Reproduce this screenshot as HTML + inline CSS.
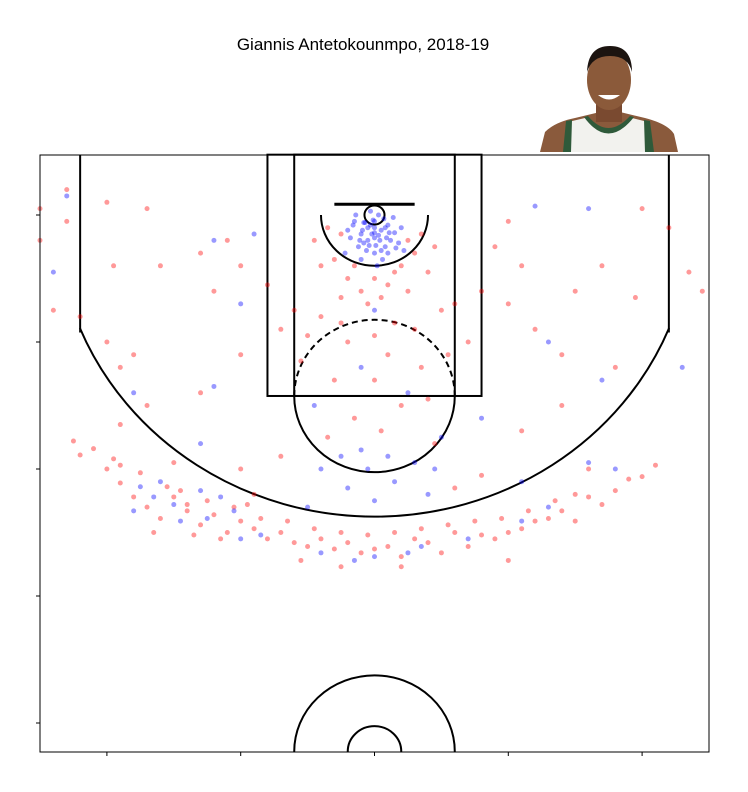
<!DOCTYPE html>
<html><head><meta charset="utf-8"><style>
html,body{margin:0;padding:0;background:#fff;}
svg{display:block;font-family:"Liberation Sans",sans-serif;}
</style></head><body>
<svg id="chart" width="748" height="792" viewBox="0 0 748 792">
<text x="363" y="50" text-anchor="middle" font-size="17">Giannis Antetokounmpo, 2018-19</text>
<g>
  <path d="M540,152 L545,132 Q555,122 575,118 L600,112 L620,112 L645,118 Q668,124 674,134 L678,152 Z" fill="#8a5a3c"/>
  <path d="M566,152 L568,122 L585,118 Q608,148 632,118 L648,122 L650,152 Z" fill="#f2f2ee"/>
  <path d="M563,152 L566,121 L572,120 L571,152 Z M645,152 L644,120 L650,121 L654,152 Z" fill="#2f5a3a"/>
  <path d="M584,117 Q608,150 634,117 L630,116 Q608,140 588,116 Z" fill="#2f5a3a"/>
  <rect x="596" y="100" width="26" height="22" fill="#7a4a30"/>
  <ellipse cx="609" cy="80" rx="22" ry="30" fill="#8b5a3a"/>
  <path d="M587,72 Q588,46 610,46 Q632,46 632,72 Q628,56 610,56 Q592,56 587,72 Z" fill="#1c1410"/>
  <path d="M598,95 Q609,104 620,95 Z" fill="#fff"/>
</g>
<g id="court" fill="none" stroke="#000" stroke-width="2"></g>
<g id="shots"></g>
<rect x="40" y="155" width="669" height="597" fill="none" stroke="#000" stroke-width="1"/>
<g id="ticks" stroke="#000" stroke-width="1"></g>
</svg>
<script>
const xTicks = [-200,-100,0,100,200];
const yTicks = [0,100,200,300,400];
const madeX = [0,-5,5,-10,10,0,-15,15,-8,8,3,-3,12,-12,0,6,-6,18,-18,20,-20,2,-2,7,-7,10,-10,0,4,-4,14,-14,22,-22,
 -3,3,-9,9,1,-1,5,-5,11,-11,0,8,-8,16,-16,
 0,-10,25,-45,10,-25,-5,30,45,-40,50,0,15,-20,40,-10,80,-50,
 -130,-160,-120,-180,-240,-230,-120,-100,130,170,110,180,160,120,-90,230,
 -150,-130,-175,-125,-105,-85,-40,-15,0,25,35,70,-180,-165,-145,-100,110,130,160,-115];
const madeY = [5,10,12,15,8,18,5,14,22,25,0,-3,20,25,30,35,28,22,18,10,12,40,15,3,6,30,35,10,20,24,2,0,28,30,
 8,16,12,18,24,4,28,20,14,20,14,10,6,26,8,
 75,120,140,150,190,190,200,195,200,200,175,225,210,215,220,185,160,230,
 180,210,135,140,45,-15,20,70,100,130,210,200,-5,-7,15,120,
 228,217,214,239,233,252,266,272,269,266,261,255,233,222,241,255,241,230,195,222];
const missX = [-25,25,-30,30,-15,15,0,-35,35,10,-10,20,-20,5,-5,25,-25,40,-40,45,-45,
 -40,30,-20,50,-50,10,0,35,-30,60,-60,20,-15,40,55,-55,0,15,-25,70,-70,80,-80,5,45,-35,
 -70,-130,-150,-170,-100,-190,60,80,110,140,160,150,-90,-180,-200,-220,-240,-250,-230,-195,-160,-120,-100,-190,-100,110,100,150,170,120,180,140,220,235,245,195,-130,-110,100,90,-170,-200,-230,200,-250,
 -200,-190,-180,-170,-160,-150,-140,-130,-120,-110,-100,-90,-80,-70,-60,-50,-40,-30,-20,-10,0,10,20,30,40,50,60,70,80,90,100,110,120,130,140,150,160,170,180,190,200,210,
 -210,-195,-175,-155,-140,-125,-105,-85,-65,-45,-25,-5,15,35,55,75,95,115,135,-220,-225,-165,-55,20,100,-25,-115,-135,-190,-145,-95];
const missY = [15,20,35,30,40,45,50,10,15,55,60,40,50,65,70,60,65,45,40,25,20,
 80,90,100,75,95,110,130,120,130,70,75,150,160,145,110,115,95,85,85,100,90,60,55,170,180,175,
 190,140,195,150,200,165,215,205,170,150,200,220,220,110,100,80,75,20,5,40,40,60,40,120,110,40,70,60,40,90,120,110,10,45,60,65,30,20,5,25,-5,-10,-20,-5,-5,
 200,211,222,230,239,222,233,244,236,250,241,247,255,250,258,261,255,263,258,266,263,261,269,255,258,266,250,261,252,255,250,247,241,239,233,241,222,228,217,208,206,197,
 184,192,203,214,228,225,230,239,241,247,250,252,250,247,244,241,239,233,225,189,178,250,272,277,272,277,255,252,197,217,228];

const NS='http://www.w3.org/2000/svg';
const sx = v => 374.5 + v*1.338;
const sy = v => 215 + v*1.27;
function mk(tag, attrs, parent){const e=document.createElementNS(NS,tag);for(const k in attrs)e.setAttribute(k,attrs[k]);parent.appendChild(e);return e;}
const court=document.getElementById('court');
function line(x1,y1,x2,y2,name){const e=mk('line',{x1:sx(x1),y1:sy(y1),x2:sx(x2),y2:sy(y2)},court);

}
function rect(x,y,w,h,name){const e=mk('rect',{x:sx(x),y:sy(y),width:w*1.338,height:h*1.27},court);

}
function arc(cx,cy,r,t1,t2,name,dash){const rx=r*1.338,ry=r*1.27;const a1=t1*Math.PI/180,a2=t2*Math.PI/180;
const x1=sx(cx)+rx*Math.cos(a1),y1=sy(cy)+ry*Math.sin(a1),x2=sx(cx)+rx*Math.cos(a2),y2=sy(cy)+ry*Math.sin(a2);
const large=((t2-t1+360)%360)>180?1:0;
const e=mk('path',{d:`M${x1},${y1} A${rx},${ry} 0 ${large} 1 ${x2},${y2}`},court);
if(dash)e.setAttribute('stroke-dasharray','6,4');

}
function ell(cx,cy,r,name){const e=mk('ellipse',{cx:sx(cx),cy:sy(cy),rx:r*1.338,ry:r*1.27},court);

}
ell(0,0,7.5,'hoop');
const bb=mk('line',{x1:sx(-30),y1:sy(-8.5),x2:sx(30),y2:sy(-8.5),'stroke-width':3},court);


rect(-80,-47.5,160,190,'outer-paint');
rect(-60,-47.5,120,190,'inner-paint');
arc(0,142.5,60,0,180,'free-throw-arc-solid');
arc(0,142.5,60,180,360,'free-throw-arc-dashed',true);
arc(0,0,40,0,180,'restricted-area');
line(-220,-47.5,-220,92.5,'left-corner-three');
line(220,-47.5,220,92.5,'right-corner-three');
arc(0,0,237.5,22,158,'three-point-arc');
arc(0,422.5,60,180,360,'center-outer-arc');
arc(0,422.5,20,180,360,'center-inner-arc');

const shots=document.getElementById('shots');
function dots(xs,ys,color,name){for(let i=0;i<xs.length;i++){const c=mk('circle',{cx:sx(xs[i]),cy:sy(ys[i]),r:2.5,fill:color,'fill-opacity':0.4},shots);

}}
dots(missX,missY,'#ff0000','missed-shot');
dots(madeX,madeY,'#0000ff','made-shot');

const ticks=document.getElementById('ticks');
xTicks.forEach(v=>{const t=mk('line',{x1:sx(v),x2:sx(v),y1:752,y2:756},ticks);

});
yTicks.forEach(v=>{const t=mk('line',{x1:36,x2:40,y1:sy(v),y2:sy(v)},ticks);

});
</script>
</body></html>
